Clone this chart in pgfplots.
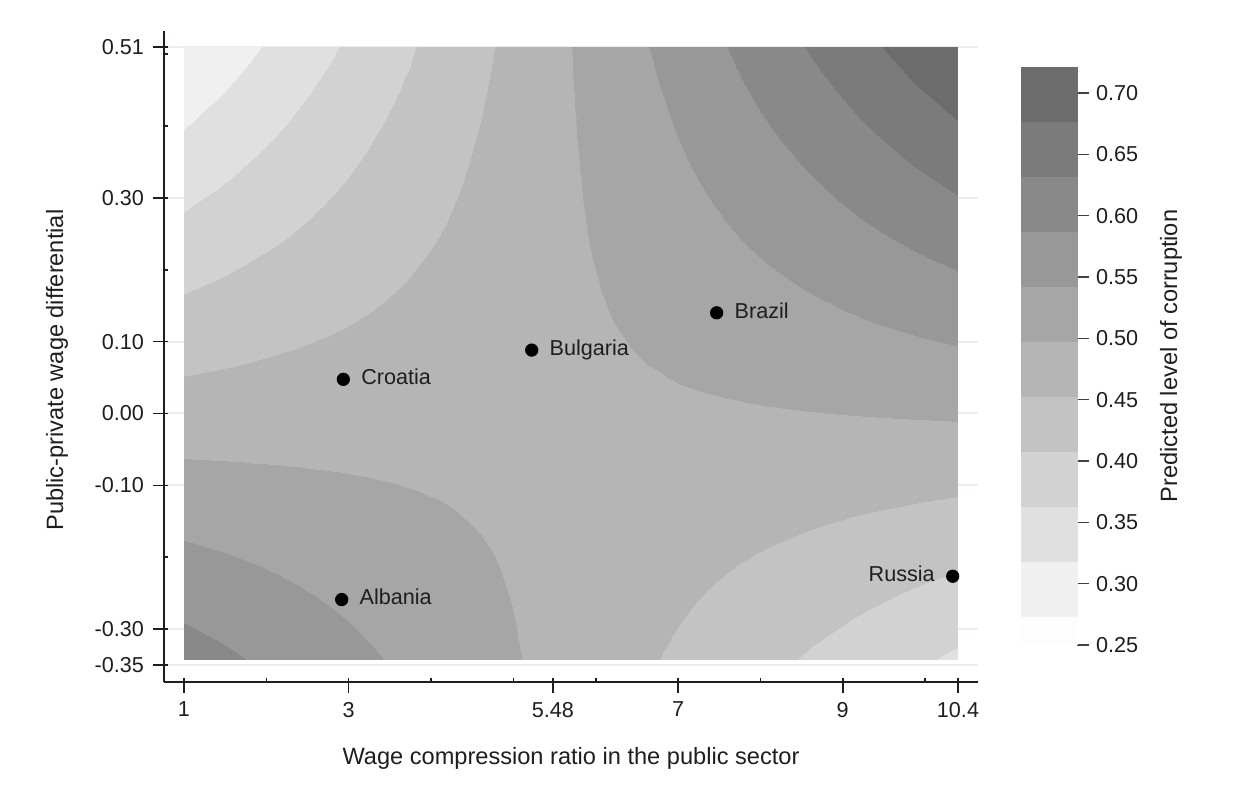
\documentclass[border=0pt]{standalone}
\usepackage{pgfplots}
\usepackage{pgfplotstable}
\pgfplotsset{compat=1.18}
\usepackage{fontspec}
\setmainfont{Liberation Sans}

\definecolor{gridblue}{RGB}{230,238,241}
\definecolor{axisink}{RGB}{30,30,30}

% predicted corruption on a regular grid (x varies fastest, 41 columns x 21 rows)
\pgfplotstableread{
x y z
1 -0.3420 0.6070
1.235 -0.3420 0.6008
1.47 -0.3420 0.5945
1.705 -0.3420 0.5882
1.94 -0.3420 0.5819
2.175 -0.3420 0.5757
2.41 -0.3420 0.5694
2.645 -0.3420 0.5631
2.88 -0.3420 0.5568
3.115 -0.3420 0.5506
3.35 -0.3420 0.5443
3.585 -0.3420 0.5380
3.82 -0.3420 0.5317
4.055 -0.3420 0.5255
4.29 -0.3420 0.5192
4.525 -0.3420 0.5129
4.76 -0.3420 0.5066
4.995 -0.3420 0.5004
5.23 -0.3420 0.4941
5.465 -0.3420 0.4878
5.7 -0.3420 0.4815
5.935 -0.3420 0.4752
6.17 -0.3420 0.4690
6.405 -0.3420 0.4627
6.64 -0.3420 0.4564
6.875 -0.3420 0.4501
7.11 -0.3420 0.4439
7.345 -0.3420 0.4376
7.58 -0.3420 0.4313
7.815 -0.3420 0.4250
8.05 -0.3420 0.4188
8.285 -0.3420 0.4125
8.52 -0.3420 0.4062
8.755 -0.3420 0.3999
8.99 -0.3420 0.3937
9.225 -0.3420 0.3874
9.46 -0.3420 0.3811
9.695 -0.3420 0.3748
9.93 -0.3420 0.3686
10.165 -0.3420 0.3623
10.4 -0.3420 0.3560
1 -0.2994 0.5904
1.235 -0.2994 0.5850
1.47 -0.2994 0.5796
1.705 -0.2994 0.5742
1.94 -0.2994 0.5688
2.175 -0.2994 0.5634
2.41 -0.2994 0.5579
2.645 -0.2994 0.5525
2.88 -0.2994 0.5471
3.115 -0.2994 0.5417
3.35 -0.2994 0.5363
3.585 -0.2994 0.5309
3.82 -0.2994 0.5255
4.055 -0.2994 0.5201
4.29 -0.2994 0.5147
4.525 -0.2994 0.5093
4.76 -0.2994 0.5039
4.995 -0.2994 0.4985
5.23 -0.2994 0.4931
5.465 -0.2994 0.4877
5.7 -0.2994 0.4823
5.935 -0.2994 0.4769
6.17 -0.2994 0.4715
6.405 -0.2994 0.4661
6.64 -0.2994 0.4607
6.875 -0.2994 0.4553
7.11 -0.2994 0.4499
7.345 -0.2994 0.4445
7.58 -0.2994 0.4391
7.815 -0.2994 0.4337
8.05 -0.2994 0.4283
8.285 -0.2994 0.4229
8.52 -0.2994 0.4175
8.755 -0.2994 0.4121
8.99 -0.2994 0.4067
9.225 -0.2994 0.4012
9.46 -0.2994 0.3958
9.695 -0.2994 0.3904
9.93 -0.2994 0.3850
10.165 -0.2994 0.3796
10.4 -0.2994 0.3742
1 -0.2568 0.5737
1.235 -0.2568 0.5692
1.47 -0.2568 0.5646
1.705 -0.2568 0.5601
1.94 -0.2568 0.5556
2.175 -0.2568 0.5510
2.41 -0.2568 0.5465
2.645 -0.2568 0.5420
2.88 -0.2568 0.5374
3.115 -0.2568 0.5329
3.35 -0.2568 0.5284
3.585 -0.2568 0.5239
3.82 -0.2568 0.5193
4.055 -0.2568 0.5148
4.29 -0.2568 0.5103
4.525 -0.2568 0.5057
4.76 -0.2568 0.5012
4.995 -0.2568 0.4967
5.23 -0.2568 0.4921
5.465 -0.2568 0.4876
5.7 -0.2568 0.4831
5.935 -0.2568 0.4785
6.17 -0.2568 0.4740
6.405 -0.2568 0.4695
6.64 -0.2568 0.4650
6.875 -0.2568 0.4604
7.11 -0.2568 0.4559
7.345 -0.2568 0.4514
7.58 -0.2568 0.4468
7.815 -0.2568 0.4423
8.05 -0.2568 0.4378
8.285 -0.2568 0.4332
8.52 -0.2568 0.4287
8.755 -0.2568 0.4242
8.99 -0.2568 0.4196
9.225 -0.2568 0.4151
9.46 -0.2568 0.4106
9.695 -0.2568 0.4060
9.93 -0.2568 0.4015
10.165 -0.2568 0.3970
10.4 -0.2568 0.3925
1 -0.2142 0.5570
1.235 -0.2142 0.5534
1.47 -0.2142 0.5497
1.705 -0.2142 0.5460
1.94 -0.2142 0.5424
2.175 -0.2142 0.5387
2.41 -0.2142 0.5351
2.645 -0.2142 0.5314
2.88 -0.2142 0.5278
3.115 -0.2142 0.5241
3.35 -0.2142 0.5204
3.585 -0.2142 0.5168
3.82 -0.2142 0.5131
4.055 -0.2142 0.5095
4.29 -0.2142 0.5058
4.525 -0.2142 0.5021
4.76 -0.2142 0.4985
4.995 -0.2142 0.4948
5.23 -0.2142 0.4912
5.465 -0.2142 0.4875
5.7 -0.2142 0.4839
5.935 -0.2142 0.4802
6.17 -0.2142 0.4765
6.405 -0.2142 0.4729
6.64 -0.2142 0.4692
6.875 -0.2142 0.4656
7.11 -0.2142 0.4619
7.345 -0.2142 0.4582
7.58 -0.2142 0.4546
7.815 -0.2142 0.4509
8.05 -0.2142 0.4473
8.285 -0.2142 0.4436
8.52 -0.2142 0.4399
8.755 -0.2142 0.4363
8.99 -0.2142 0.4326
9.225 -0.2142 0.4290
9.46 -0.2142 0.4253
9.695 -0.2142 0.4217
9.93 -0.2142 0.4180
10.165 -0.2142 0.4143
10.4 -0.2142 0.4107
1 -0.1716 0.5404
1.235 -0.1716 0.5376
1.47 -0.1716 0.5348
1.705 -0.1716 0.5320
1.94 -0.1716 0.5292
2.175 -0.1716 0.5264
2.41 -0.1716 0.5236
2.645 -0.1716 0.5208
2.88 -0.1716 0.5181
3.115 -0.1716 0.5153
3.35 -0.1716 0.5125
3.585 -0.1716 0.5097
3.82 -0.1716 0.5069
4.055 -0.1716 0.5041
4.29 -0.1716 0.5013
4.525 -0.1716 0.4986
4.76 -0.1716 0.4958
4.995 -0.1716 0.4930
5.23 -0.1716 0.4902
5.465 -0.1716 0.4874
5.7 -0.1716 0.4846
5.935 -0.1716 0.4818
6.17 -0.1716 0.4791
6.405 -0.1716 0.4763
6.64 -0.1716 0.4735
6.875 -0.1716 0.4707
7.11 -0.1716 0.4679
7.345 -0.1716 0.4651
7.58 -0.1716 0.4623
7.815 -0.1716 0.4595
8.05 -0.1716 0.4568
8.285 -0.1716 0.4540
8.52 -0.1716 0.4512
8.755 -0.1716 0.4484
8.99 -0.1716 0.4456
9.225 -0.1716 0.4428
9.46 -0.1716 0.4400
9.695 -0.1716 0.4373
9.93 -0.1716 0.4345
10.165 -0.1716 0.4317
10.4 -0.1716 0.4289
1 -0.1290 0.5237
1.235 -0.1290 0.5218
1.47 -0.1290 0.5199
1.705 -0.1290 0.5179
1.94 -0.1290 0.5160
2.175 -0.1290 0.5141
2.41 -0.1290 0.5122
2.645 -0.1290 0.5103
2.88 -0.1290 0.5084
3.115 -0.1290 0.5065
3.35 -0.1290 0.5045
3.585 -0.1290 0.5026
3.82 -0.1290 0.5007
4.055 -0.1290 0.4988
4.29 -0.1290 0.4969
4.525 -0.1290 0.4950
4.76 -0.1290 0.4931
4.995 -0.1290 0.4911
5.23 -0.1290 0.4892
5.465 -0.1290 0.4873
5.7 -0.1290 0.4854
5.935 -0.1290 0.4835
6.17 -0.1290 0.4816
6.405 -0.1290 0.4797
6.64 -0.1290 0.4777
6.875 -0.1290 0.4758
7.11 -0.1290 0.4739
7.345 -0.1290 0.4720
7.58 -0.1290 0.4701
7.815 -0.1290 0.4682
8.05 -0.1290 0.4663
8.285 -0.1290 0.4643
8.52 -0.1290 0.4624
8.755 -0.1290 0.4605
8.99 -0.1290 0.4586
9.225 -0.1290 0.4567
9.46 -0.1290 0.4548
9.695 -0.1290 0.4529
9.93 -0.1290 0.4510
10.165 -0.1290 0.4490
10.4 -0.1290 0.4471
1 -0.0864 0.5070
1.235 -0.0864 0.5060
1.47 -0.0864 0.5049
1.705 -0.0864 0.5039
1.94 -0.0864 0.5028
2.175 -0.0864 0.5018
2.41 -0.0864 0.5008
2.645 -0.0864 0.4997
2.88 -0.0864 0.4987
3.115 -0.0864 0.4976
3.35 -0.0864 0.4966
3.585 -0.0864 0.4956
3.82 -0.0864 0.4945
4.055 -0.0864 0.4935
4.29 -0.0864 0.4924
4.525 -0.0864 0.4914
4.76 -0.0864 0.4903
4.995 -0.0864 0.4893
5.23 -0.0864 0.4883
5.465 -0.0864 0.4872
5.7 -0.0864 0.4862
5.935 -0.0864 0.4851
6.17 -0.0864 0.4841
6.405 -0.0864 0.4831
6.64 -0.0864 0.4820
6.875 -0.0864 0.4810
7.11 -0.0864 0.4799
7.345 -0.0864 0.4789
7.58 -0.0864 0.4778
7.815 -0.0864 0.4768
8.05 -0.0864 0.4758
8.285 -0.0864 0.4747
8.52 -0.0864 0.4737
8.755 -0.0864 0.4726
8.99 -0.0864 0.4716
9.225 -0.0864 0.4706
9.46 -0.0864 0.4695
9.695 -0.0864 0.4685
9.93 -0.0864 0.4674
10.165 -0.0864 0.4664
10.4 -0.0864 0.4653
1 -0.0438 0.4903
1.235 -0.0438 0.4902
1.47 -0.0438 0.4900
1.705 -0.0438 0.4898
1.94 -0.0438 0.4897
2.175 -0.0438 0.4895
2.41 -0.0438 0.4893
2.645 -0.0438 0.4892
2.88 -0.0438 0.4890
3.115 -0.0438 0.4888
3.35 -0.0438 0.4886
3.585 -0.0438 0.4885
3.82 -0.0438 0.4883
4.055 -0.0438 0.4881
4.29 -0.0438 0.4880
4.525 -0.0438 0.4878
4.76 -0.0438 0.4876
4.995 -0.0438 0.4875
5.23 -0.0438 0.4873
5.465 -0.0438 0.4871
5.7 -0.0438 0.4870
5.935 -0.0438 0.4868
6.17 -0.0438 0.4866
6.405 -0.0438 0.4864
6.64 -0.0438 0.4863
6.875 -0.0438 0.4861
7.11 -0.0438 0.4859
7.345 -0.0438 0.4858
7.58 -0.0438 0.4856
7.815 -0.0438 0.4854
8.05 -0.0438 0.4853
8.285 -0.0438 0.4851
8.52 -0.0438 0.4849
8.755 -0.0438 0.4848
8.99 -0.0438 0.4846
9.225 -0.0438 0.4844
9.46 -0.0438 0.4842
9.695 -0.0438 0.4841
9.93 -0.0438 0.4839
10.165 -0.0438 0.4837
10.4 -0.0438 0.4836
1 -0.0012 0.4737
1.235 -0.0012 0.4744
1.47 -0.0012 0.4751
1.705 -0.0012 0.4758
1.94 -0.0012 0.4765
2.175 -0.0012 0.4772
2.41 -0.0012 0.4779
2.645 -0.0012 0.4786
2.88 -0.0012 0.4793
3.115 -0.0012 0.4800
3.35 -0.0012 0.4807
3.585 -0.0012 0.4814
3.82 -0.0012 0.4821
4.055 -0.0012 0.4828
4.29 -0.0012 0.4835
4.525 -0.0012 0.4842
4.76 -0.0012 0.4849
4.995 -0.0012 0.4856
5.23 -0.0012 0.4863
5.465 -0.0012 0.4870
5.7 -0.0012 0.4877
5.935 -0.0012 0.4884
6.17 -0.0012 0.4891
6.405 -0.0012 0.4898
6.64 -0.0012 0.4905
6.875 -0.0012 0.4912
7.11 -0.0012 0.4919
7.345 -0.0012 0.4927
7.58 -0.0012 0.4934
7.815 -0.0012 0.4941
8.05 -0.0012 0.4948
8.285 -0.0012 0.4955
8.52 -0.0012 0.4962
8.755 -0.0012 0.4969
8.99 -0.0012 0.4976
9.225 -0.0012 0.4983
9.46 -0.0012 0.4990
9.695 -0.0012 0.4997
9.93 -0.0012 0.5004
10.165 -0.0012 0.5011
10.4 -0.0012 0.5018
1 0.0414 0.4570
1.235 0.0414 0.4586
1.47 0.0414 0.4601
1.705 0.0414 0.4617
1.94 0.0414 0.4633
2.175 0.0414 0.4649
2.41 0.0414 0.4664
2.645 0.0414 0.4680
2.88 0.0414 0.4696
3.115 0.0414 0.4712
3.35 0.0414 0.4728
3.585 0.0414 0.4743
3.82 0.0414 0.4759
4.055 0.0414 0.4775
4.29 0.0414 0.4791
4.525 0.0414 0.4806
4.76 0.0414 0.4822
4.995 0.0414 0.4838
5.23 0.0414 0.4854
5.465 0.0414 0.4869
5.7 0.0414 0.4885
5.935 0.0414 0.4901
6.17 0.0414 0.4917
6.405 0.0414 0.4932
6.64 0.0414 0.4948
6.875 0.0414 0.4964
7.11 0.0414 0.4980
7.345 0.0414 0.4995
7.58 0.0414 0.5011
7.815 0.0414 0.5027
8.05 0.0414 0.5043
8.285 0.0414 0.5058
8.52 0.0414 0.5074
8.755 0.0414 0.5090
8.99 0.0414 0.5106
9.225 0.0414 0.5121
9.46 0.0414 0.5137
9.695 0.0414 0.5153
9.93 0.0414 0.5169
10.165 0.0414 0.5184
10.4 0.0414 0.5200
1 0.0840 0.4403
1.235 0.0840 0.4428
1.47 0.0840 0.4452
1.705 0.0840 0.4477
1.94 0.0840 0.4501
2.175 0.0840 0.4526
2.41 0.0840 0.4550
2.645 0.0840 0.4575
2.88 0.0840 0.4599
3.115 0.0840 0.4624
3.35 0.0840 0.4648
3.585 0.0840 0.4673
3.82 0.0840 0.4697
4.055 0.0840 0.4721
4.29 0.0840 0.4746
4.525 0.0840 0.4770
4.76 0.0840 0.4795
4.995 0.0840 0.4819
5.23 0.0840 0.4844
5.465 0.0840 0.4868
5.7 0.0840 0.4893
5.935 0.0840 0.4917
6.17 0.0840 0.4942
6.405 0.0840 0.4966
6.64 0.0840 0.4991
6.875 0.0840 0.5015
7.11 0.0840 0.5040
7.345 0.0840 0.5064
7.58 0.0840 0.5089
7.815 0.0840 0.5113
8.05 0.0840 0.5138
8.285 0.0840 0.5162
8.52 0.0840 0.5187
8.755 0.0840 0.5211
8.99 0.0840 0.5235
9.225 0.0840 0.5260
9.46 0.0840 0.5284
9.695 0.0840 0.5309
9.93 0.0840 0.5333
10.165 0.0840 0.5358
10.4 0.0840 0.5382
1 0.1266 0.4237
1.235 0.1266 0.4270
1.47 0.1266 0.4303
1.705 0.1266 0.4336
1.94 0.1266 0.4369
2.175 0.1266 0.4403
2.41 0.1266 0.4436
2.645 0.1266 0.4469
2.88 0.1266 0.4502
3.115 0.1266 0.4535
3.35 0.1266 0.4569
3.585 0.1266 0.4602
3.82 0.1266 0.4635
4.055 0.1266 0.4668
4.29 0.1266 0.4701
4.525 0.1266 0.4735
4.76 0.1266 0.4768
4.995 0.1266 0.4801
5.23 0.1266 0.4834
5.465 0.1266 0.4867
5.7 0.1266 0.4901
5.935 0.1266 0.4934
6.17 0.1266 0.4967
6.405 0.1266 0.5000
6.64 0.1266 0.5033
6.875 0.1266 0.5067
7.11 0.1266 0.5100
7.345 0.1266 0.5133
7.58 0.1266 0.5166
7.815 0.1266 0.5199
8.05 0.1266 0.5233
8.285 0.1266 0.5266
8.52 0.1266 0.5299
8.755 0.1266 0.5332
8.99 0.1266 0.5365
9.225 0.1266 0.5399
9.46 0.1266 0.5432
9.695 0.1266 0.5465
9.93 0.1266 0.5498
10.165 0.1266 0.5531
10.4 0.1266 0.5565
1 0.1692 0.4070
1.235 0.1692 0.4112
1.47 0.1692 0.4154
1.705 0.1692 0.4196
1.94 0.1692 0.4238
2.175 0.1692 0.4279
2.41 0.1692 0.4321
2.645 0.1692 0.4363
2.88 0.1692 0.4405
3.115 0.1692 0.4447
3.35 0.1692 0.4489
3.585 0.1692 0.4531
3.82 0.1692 0.4573
4.055 0.1692 0.4615
4.29 0.1692 0.4657
4.525 0.1692 0.4699
4.76 0.1692 0.4741
4.995 0.1692 0.4783
5.23 0.1692 0.4824
5.465 0.1692 0.4866
5.7 0.1692 0.4908
5.935 0.1692 0.4950
6.17 0.1692 0.4992
6.405 0.1692 0.5034
6.64 0.1692 0.5076
6.875 0.1692 0.5118
7.11 0.1692 0.5160
7.345 0.1692 0.5202
7.58 0.1692 0.5244
7.815 0.1692 0.5286
8.05 0.1692 0.5328
8.285 0.1692 0.5369
8.52 0.1692 0.5411
8.755 0.1692 0.5453
8.99 0.1692 0.5495
9.225 0.1692 0.5537
9.46 0.1692 0.5579
9.695 0.1692 0.5621
9.93 0.1692 0.5663
10.165 0.1692 0.5705
10.4 0.1692 0.5747
1 0.2118 0.3903
1.235 0.2118 0.3954
1.47 0.2118 0.4004
1.705 0.2118 0.4055
1.94 0.2118 0.4106
2.175 0.2118 0.4156
2.41 0.2118 0.4207
2.645 0.2118 0.4258
2.88 0.2118 0.4308
3.115 0.2118 0.4359
3.35 0.2118 0.4410
3.585 0.2118 0.4460
3.82 0.2118 0.4511
4.055 0.2118 0.4562
4.29 0.2118 0.4612
4.525 0.2118 0.4663
4.76 0.2118 0.4713
4.995 0.2118 0.4764
5.23 0.2118 0.4815
5.465 0.2118 0.4865
5.7 0.2118 0.4916
5.935 0.2118 0.4967
6.17 0.2118 0.5017
6.405 0.2118 0.5068
6.64 0.2118 0.5119
6.875 0.2118 0.5169
7.11 0.2118 0.5220
7.345 0.2118 0.5271
7.58 0.2118 0.5321
7.815 0.2118 0.5372
8.05 0.2118 0.5423
8.285 0.2118 0.5473
8.52 0.2118 0.5524
8.755 0.2118 0.5574
8.99 0.2118 0.5625
9.225 0.2118 0.5676
9.46 0.2118 0.5726
9.695 0.2118 0.5777
9.93 0.2118 0.5828
10.165 0.2118 0.5878
10.4 0.2118 0.5929
1 0.2544 0.3736
1.235 0.2544 0.3796
1.47 0.2544 0.3855
1.705 0.2544 0.3915
1.94 0.2544 0.3974
2.175 0.2544 0.4033
2.41 0.2544 0.4093
2.645 0.2544 0.4152
2.88 0.2544 0.4211
3.115 0.2544 0.4271
3.35 0.2544 0.4330
3.585 0.2544 0.4389
3.82 0.2544 0.4449
4.055 0.2544 0.4508
4.29 0.2544 0.4568
4.525 0.2544 0.4627
4.76 0.2544 0.4686
4.995 0.2544 0.4746
5.23 0.2544 0.4805
5.465 0.2544 0.4864
5.7 0.2544 0.4924
5.935 0.2544 0.4983
6.17 0.2544 0.5043
6.405 0.2544 0.5102
6.64 0.2544 0.5161
6.875 0.2544 0.5221
7.11 0.2544 0.5280
7.345 0.2544 0.5339
7.58 0.2544 0.5399
7.815 0.2544 0.5458
8.05 0.2544 0.5518
8.285 0.2544 0.5577
8.52 0.2544 0.5636
8.755 0.2544 0.5696
8.99 0.2544 0.5755
9.225 0.2544 0.5814
9.46 0.2544 0.5874
9.695 0.2544 0.5933
9.93 0.2544 0.5993
10.165 0.2544 0.6052
10.4 0.2544 0.6111
1 0.2970 0.3570
1.235 0.2970 0.3638
1.47 0.2970 0.3706
1.705 0.2970 0.3774
1.94 0.2970 0.3842
2.175 0.2970 0.3910
2.41 0.2970 0.3978
2.645 0.2970 0.4046
2.88 0.2970 0.4114
3.115 0.2970 0.4183
3.35 0.2970 0.4251
3.585 0.2970 0.4319
3.82 0.2970 0.4387
4.055 0.2970 0.4455
4.29 0.2970 0.4523
4.525 0.2970 0.4591
4.76 0.2970 0.4659
4.995 0.2970 0.4727
5.23 0.2970 0.4795
5.465 0.2970 0.4863
5.7 0.2970 0.4932
5.935 0.2970 0.5000
6.17 0.2970 0.5068
6.405 0.2970 0.5136
6.64 0.2970 0.5204
6.875 0.2970 0.5272
7.11 0.2970 0.5340
7.345 0.2970 0.5408
7.58 0.2970 0.5476
7.815 0.2970 0.5544
8.05 0.2970 0.5613
8.285 0.2970 0.5681
8.52 0.2970 0.5749
8.755 0.2970 0.5817
8.99 0.2970 0.5885
9.225 0.2970 0.5953
9.46 0.2970 0.6021
9.695 0.2970 0.6089
9.93 0.2970 0.6157
10.165 0.2970 0.6225
10.4 0.2970 0.6293
1 0.3396 0.3403
1.235 0.3396 0.3480
1.47 0.3396 0.3557
1.705 0.3396 0.3633
1.94 0.3396 0.3710
2.175 0.3396 0.3787
2.41 0.3396 0.3864
2.645 0.3396 0.3941
2.88 0.3396 0.4018
3.115 0.3396 0.4094
3.35 0.3396 0.4171
3.585 0.3396 0.4248
3.82 0.3396 0.4325
4.055 0.3396 0.4402
4.29 0.3396 0.4478
4.525 0.3396 0.4555
4.76 0.3396 0.4632
4.995 0.3396 0.4709
5.23 0.3396 0.4786
5.465 0.3396 0.4863
5.7 0.3396 0.4939
5.935 0.3396 0.5016
6.17 0.3396 0.5093
6.405 0.3396 0.5170
6.64 0.3396 0.5247
6.875 0.3396 0.5323
7.11 0.3396 0.5400
7.345 0.3396 0.5477
7.58 0.3396 0.5554
7.815 0.3396 0.5631
8.05 0.3396 0.5708
8.285 0.3396 0.5784
8.52 0.3396 0.5861
8.755 0.3396 0.5938
8.99 0.3396 0.6015
9.225 0.3396 0.6092
9.46 0.3396 0.6168
9.695 0.3396 0.6245
9.93 0.3396 0.6322
10.165 0.3396 0.6399
10.4 0.3396 0.6476
1 0.3822 0.3236
1.235 0.3822 0.3322
1.47 0.3822 0.3407
1.705 0.3822 0.3493
1.94 0.3822 0.3578
2.175 0.3822 0.3664
2.41 0.3822 0.3750
2.645 0.3822 0.3835
2.88 0.3822 0.3921
3.115 0.3822 0.4006
3.35 0.3822 0.4092
3.585 0.3822 0.4177
3.82 0.3822 0.4263
4.055 0.3822 0.4348
4.29 0.3822 0.4434
4.525 0.3822 0.4519
4.76 0.3822 0.4605
4.995 0.3822 0.4690
5.23 0.3822 0.4776
5.465 0.3822 0.4862
5.7 0.3822 0.4947
5.935 0.3822 0.5033
6.17 0.3822 0.5118
6.405 0.3822 0.5204
6.64 0.3822 0.5289
6.875 0.3822 0.5375
7.11 0.3822 0.5460
7.345 0.3822 0.5546
7.58 0.3822 0.5631
7.815 0.3822 0.5717
8.05 0.3822 0.5803
8.285 0.3822 0.5888
8.52 0.3822 0.5974
8.755 0.3822 0.6059
8.99 0.3822 0.6145
9.225 0.3822 0.6230
9.46 0.3822 0.6316
9.695 0.3822 0.6401
9.93 0.3822 0.6487
10.165 0.3822 0.6572
10.4 0.3822 0.6658
1 0.4248 0.3070
1.235 0.4248 0.3164
1.47 0.4248 0.3258
1.705 0.4248 0.3352
1.94 0.4248 0.3447
2.175 0.4248 0.3541
2.41 0.4248 0.3635
2.645 0.4248 0.3729
2.88 0.4248 0.3824
3.115 0.4248 0.3918
3.35 0.4248 0.4012
3.585 0.4248 0.4106
3.82 0.4248 0.4201
4.055 0.4248 0.4295
4.29 0.4248 0.4389
4.525 0.4248 0.4484
4.76 0.4248 0.4578
4.995 0.4248 0.4672
5.23 0.4248 0.4766
5.465 0.4248 0.4861
5.7 0.4248 0.4955
5.935 0.4248 0.5049
6.17 0.4248 0.5143
6.405 0.4248 0.5238
6.64 0.4248 0.5332
6.875 0.4248 0.5426
7.11 0.4248 0.5520
7.345 0.4248 0.5615
7.58 0.4248 0.5709
7.815 0.4248 0.5803
8.05 0.4248 0.5897
8.285 0.4248 0.5992
8.52 0.4248 0.6086
8.755 0.4248 0.6180
8.99 0.4248 0.6275
9.225 0.4248 0.6369
9.46 0.4248 0.6463
9.695 0.4248 0.6557
9.93 0.4248 0.6652
10.165 0.4248 0.6746
10.4 0.4248 0.6840
1 0.4674 0.2903
1.235 0.4674 0.3006
1.47 0.4674 0.3109
1.705 0.4674 0.3212
1.94 0.4674 0.3315
2.175 0.4674 0.3418
2.41 0.4674 0.3521
2.645 0.4674 0.3624
2.88 0.4674 0.3727
3.115 0.4674 0.3830
3.35 0.4674 0.3933
3.585 0.4674 0.4036
3.82 0.4674 0.4139
4.055 0.4674 0.4242
4.29 0.4674 0.4345
4.525 0.4674 0.4448
4.76 0.4674 0.4551
4.995 0.4674 0.4654
5.23 0.4674 0.4757
5.465 0.4674 0.4860
5.7 0.4674 0.4963
5.935 0.4674 0.5066
6.17 0.4674 0.5169
6.405 0.4674 0.5272
6.64 0.4674 0.5375
6.875 0.4674 0.5478
7.11 0.4674 0.5581
7.345 0.4674 0.5684
7.58 0.4674 0.5787
7.815 0.4674 0.5890
8.05 0.4674 0.5992
8.285 0.4674 0.6095
8.52 0.4674 0.6198
8.755 0.4674 0.6301
8.99 0.4674 0.6404
9.225 0.4674 0.6507
9.46 0.4674 0.6610
9.695 0.4674 0.6713
9.93 0.4674 0.6816
10.165 0.4674 0.6919
10.4 0.4674 0.7022
1 0.5100 0.2737
1.235 0.5100 0.2848
1.47 0.5100 0.2960
1.705 0.5100 0.3071
1.94 0.5100 0.3183
2.175 0.5100 0.3295
2.41 0.5100 0.3406
2.645 0.5100 0.3518
2.88 0.5100 0.3630
3.115 0.5100 0.3742
3.35 0.5100 0.3853
3.585 0.5100 0.3965
3.82 0.5100 0.4077
4.055 0.5100 0.4188
4.29 0.5100 0.4300
4.525 0.5100 0.4412
4.76 0.5100 0.4523
4.995 0.5100 0.4635
5.23 0.5100 0.4747
5.465 0.5100 0.4859
5.7 0.5100 0.4970
5.935 0.5100 0.5082
6.17 0.5100 0.5194
6.405 0.5100 0.5305
6.64 0.5100 0.5417
6.875 0.5100 0.5529
7.11 0.5100 0.5641
7.345 0.5100 0.5752
7.58 0.5100 0.5864
7.815 0.5100 0.5976
8.05 0.5100 0.6087
8.285 0.5100 0.6199
8.52 0.5100 0.6311
8.755 0.5100 0.6423
8.99 0.5100 0.6534
9.225 0.5100 0.6646
9.46 0.5100 0.6758
9.695 0.5100 0.6869
9.93 0.5100 0.6981
10.165 0.5100 0.7093
10.4 0.5100 0.7205
}\predgrid

% grey levels of the contour bands (cut points x 1000)
\pgfplotsset{
  colormap={corruption}{
    gray(250pt)=(0.992)
    gray(273.5pt)=(0.941)
    gray(318.4pt)=(0.878)
    gray(363.1pt)=(0.824)
    gray(407.9pt)=(0.765)
    gray(452.7pt)=(0.710)
    gray(497.4pt)=(0.651)
    gray(542.2pt)=(0.596)
    gray(586.9pt)=(0.537)
    gray(631.7pt)=(0.482)
    gray(676.5pt)=(0.424)
    gray(721.2pt)=(0.424)
  },
  contourbase/.style={
    colormap name=corruption,
    colormap access=piecewise constant,
    point meta min=0.25, point meta max=0.7212,
  },
}

\newcommand{\ticksize}{\fontsize{10.8}{13}\selectfont}
\newcommand{\titlesize}{\fontsize{11.8}{14}\selectfont}

\begin{document}
\begin{tikzpicture}
\useasboundingbox (0,0) rectangle (624pt,398pt);

\begin{axis}[
  contourbase,
  at={(82pt,57pt)}, anchor=south west,
  width=407pt, height=325.5pt, scale only axis,
  xmin=0.7571, xmax=10.643,
  ymin=-0.3737, ymax=0.5323,
  axis x line*=bottom, axis y line*=left,
  axis line style={draw=axisink, line width=0.8pt},
  every tick/.style={draw=axisink, line width=0.8pt},
  tick align=outside, major tick length=5.5pt,
  xtick={1,3,5.48,7,9,10.4},
  xticklabels={1,3,5.48,7,9,10.4},
  ytick={-0.35,-0.30,-0.10,0,0.10,0.30,0.51},
  yticklabels={-0.35,-0.30,-0.10,0.00,0.10,0.30,0.51},
  extra x ticks={1,3,5.48,7,9,10.4,2,4,5,6,8,10},
  extra x tick labels={},
  extra x tick style={tick align=inside, major tick length=2pt, grid=none},
  extra y ticks={-0.35,-0.30,-0.10,0,0.10,0.30,0.51,-0.2,0.2,0.4,0.5},
  extra y tick labels={},
  extra y tick style={tick align=inside, major tick length=2pt, grid=none},
  ymajorgrids,
  major grid style={draw=gridblue, line width=1pt},
  tick label style={font=\ticksize, text=axisink},
  xticklabel style={yshift=-1pt},
  yticklabel style={xshift=-1pt},
  xlabel={Wage compression ratio in the public sector},
  ylabel={Public-private wage differential},
  xlabel style={at={(axis description cs:0.5,-0.118)}, anchor=center, font=\titlesize, text=axisink},
  ylabel style={at={(axis description cs:-0.1314,0.479)}, anchor=center, font=\titlesize, text=axisink},
]
\addplot[surf, shader=interp, point meta=explicit, mesh/cols=41]
  table[x index=0, y index=1, meta index=2] {\predgrid};

% countries, labelled to the right
\addplot[only marks, mark=*, mark size=3.1pt, black,
  point meta=explicit symbolic, nodes near coords,
  every node near coord/.style={anchor=base west, xshift=8.8pt, yshift=-2.6pt,
    inner sep=0pt, font=\ticksize, text=axisink}]
  coordinates {
    (2.935,0.0475) [Croatia]
    (5.223,0.0882) [Bulgaria]
    (7.469,0.1401) [Brazil]
    (2.915,-0.2590) [Albania]
  };
% labelled to the left
\addplot[only marks, mark=*, mark size=3.1pt, black,
  point meta=explicit symbolic, nodes near coords,
  every node near coord/.style={anchor=base east, xshift=-8.8pt, yshift=-2.6pt,
    inner sep=0pt, font=\ticksize, text=axisink}]
  coordinates {
    (10.336,-0.2265) [Russia]
  };
\end{axis}

% legend bar of the contour levels
\begin{axis}[
  contourbase,
  at={(510.5pt,75.5pt)}, anchor=south west,
  width=28pt, height=289pt, scale only axis,
  xmin=0, xmax=1, ymin=0.25, ymax=0.7212,
  axis x line=none, axis y line*=right,
  axis line style={draw=axisink!85, line width=0.9pt},
  every tick/.style={draw=axisink!85, line width=0.8pt},
  tick align=outside, major tick length=6pt,
  ytick={0.25,0.30,0.35,0.40,0.45,0.50,0.55,0.60,0.65,0.70},
  yticklabels={0.25,0.30,0.35,0.40,0.45,0.50,0.55,0.60,0.65,0.70},
  tick label style={font=\ticksize, text=axisink},
  ylabel={Predicted level of corruption},
  ylabel style={at={(axis description cs:2.68,0.5)}, anchor=center, font=\titlesize, text=axisink},
]
\addplot[surf, shader=interp, point meta=explicit, mesh/cols=2]
  table[x index=0, y index=1, meta index=2] {
0 0.25 0.25
1 0.25 0.25
0 0.7212 0.7212
1 0.7212 0.7212
};
\end{axis}
\end{tikzpicture}
\end{document}
